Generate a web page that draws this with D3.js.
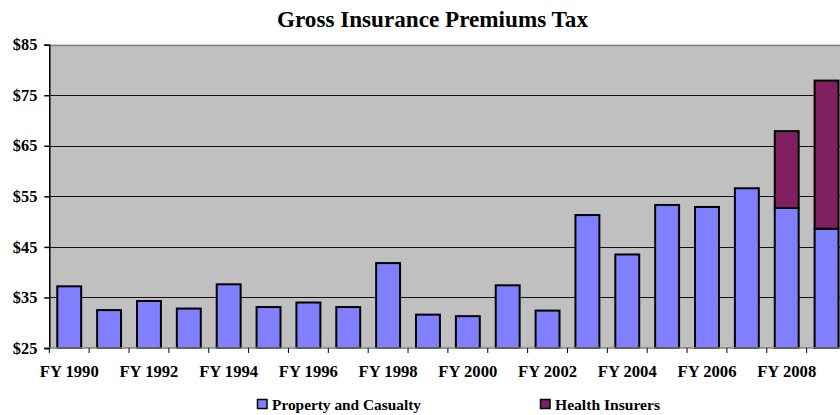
<!DOCTYPE html>
<html>
<head>
<meta charset="utf-8">
<script src="https://cdn.jsdelivr.net/npm/d3@7"></script>
<style>
  html, body { margin: 0; padding: 0; background: #fff; }
  svg { display: block; }
</style>
</head>
<body>
<svg id="chart" width="840" height="415"></svg>
<script>
// Fiscal years and premiums tax collections ($ millions)
const years = ["FY 1990","FY 1991","FY 1992","FY 1993","FY 1994","FY 1995","FY 1996","FY 1997","FY 1998","FY 1999",
               "FY 2000","FY 2001","FY 2002","FY 2003","FY 2004","FY 2005","FY 2006","FY 2007","FY 2008","FY 2009"];
const propertyCasualty = [37.2, 32.5, 34.3, 32.8, 37.6, 33.1, 34.0, 33.1, 41.8, 31.6,
                          31.3, 37.4, 32.4, 51.3, 43.5, 53.3, 52.9, 56.6, 52.7, 48.6];
const healthInsurers   = [0, 0, 0, 0, 0, 0, 0, 0, 0, 0,
                          0, 0, 0, 0, 0, 0, 0, 0, 15.2, 29.3];
const seriesNames = ["Property and Casualty", "Health Insurers"];
const seriesColors = ["#8080FF", "#7F1F5F"];
const yTicks = [25, 35, 45, 55, 65, 75, 85];
const xLabelYears = ["FY 1990","FY 1992","FY 1994","FY 1996","FY 1998","FY 2000","FY 2002","FY 2004","FY 2006","FY 2008"];

const FONT = "'Liberation Serif', 'Times New Roman', Times, serif";

const svg = d3.select("#chart");
const plot = { left: 49.3, top: 44.7, bottom: 348, right: 846.5 };

const x = d3.scaleBand().domain(years).range([plot.left, plot.right]).paddingInner(0.4).paddingOuter(0.2);
const y = d3.scaleLinear().domain([25, 85]).range([plot.bottom, plot.top]);

function styleText(sel, size, len) {
  sel.attr("font-family", FONT).attr("font-weight", "bold")
    .attr("font-size", size).attr("fill", "#000");
  if (len) sel.attr("textLength", len).attr("lengthAdjust", "spacingAndGlyphs");
  return sel;
}

// Title
styleText(svg.append("text").attr("x", 432.5).attr("y", 26.5).attr("text-anchor", "middle"), 23, 311)
  .text("Gross Insurance Premiums Tax");

// Plot background
svg.append("rect").attr("x", plot.left).attr("y", plot.top)
  .attr("width", plot.right - plot.left).attr("height", plot.bottom - plot.top)
  .attr("fill", "#C0C0C0");

// Gridlines
svg.append("g").selectAll("line").data(yTicks.filter(t => t > 25 && t < 85)).join("line")
  .attr("x1", plot.left).attr("x2", plot.right)
  .attr("y1", d => Math.round(y(d)) + 0.5).attr("y2", d => Math.round(y(d)) + 0.5)
  .attr("stroke", "#111").attr("stroke-width", 1);
svg.append("line").attr("x1", plot.left).attr("x2", plot.right)
  .attr("y1", Math.round(y(85)) + 0.5).attr("y2", Math.round(y(85)) + 0.5)
  .attr("stroke", "#808080").attr("stroke-width", 1.5);

// Stacked bars (baseline at the $25 axis floor)
const rows = years.map((yr, i) => ({ year: yr, pc: propertyCasualty[i], hi: healthInsurers[i] }));
const stack = d3.stack().keys(["pc", "hi"])(rows);
svg.append("g").selectAll("g").data(stack).join("g")
  .attr("fill", (d, i) => seriesColors[i])
  .selectAll("rect").data(d => d.filter(s => s[1] - s[0] > 0)).join("rect")
  .attr("x", d => x(d.data.year))
  .attr("width", x.bandwidth())
  .attr("y", d => y(d[1]))
  .attr("height", d => y(Math.max(d[0], 25)) - y(d[1]))
  .attr("stroke", "#000").attr("stroke-width", 2);

// Y axis
const yAxis = svg.append("g").attr("transform", `translate(${plot.left},0)`)
  .call(d3.axisLeft(y).tickValues(yTicks).tickSize(5).tickPadding(6).tickFormat(d => "$" + d));
yAxis.attr("font-family", null).attr("font-size", null);
yAxis.select(".domain").attr("stroke", "#000").attr("stroke-width", 1.5);
yAxis.selectAll(".tick line").attr("stroke", "#000").attr("stroke-width", 1.5);
styleText(yAxis.selectAll(".tick text"), 16, 24.5).attr("x", -12);

// X axis: ticks at category boundaries, labels every other year
const xAxisG = svg.append("g");
xAxisG.append("line").attr("x1", plot.left).attr("x2", plot.right)
  .attr("y1", plot.bottom).attr("y2", plot.bottom).attr("stroke", "#808080").attr("stroke-width", 1.5);
xAxisG.selectAll("line.tick").data(d3.range(years.length + 1)).join("line")
  .attr("class", "tick")
  .attr("x1", i => plot.left + i * (plot.right - plot.left) / years.length)
  .attr("x2", i => plot.left + i * (plot.right - plot.left) / years.length)
  .attr("y1", plot.bottom).attr("y2", plot.bottom + 5)
  .attr("stroke", "#000").attr("stroke-width", 1);
styleText(xAxisG.selectAll("text").data(xLabelYears).join("text")
  .attr("x", d => x(d) + x.bandwidth() / 2).attr("y", 377)
  .attr("text-anchor", "middle"), 16.5, 59).text(d => d);

// Legend
const legendX = [257.5, 540.5];
const legendLen = [149, 105];
const legend = svg.append("g").selectAll("g").data(seriesNames).join("g")
  .attr("transform", (d, i) => `translate(${legendX[i]},399.5)`);
legend.append("rect").attr("width", 9.5).attr("height", 9)
  .attr("fill", (d, i) => seriesColors[i]).attr("stroke", "#000").attr("stroke-width", 1.5);
legend.append("text").attr("x", 14.5).attr("y", 10).text(d => d)
  .each(function(d, i) { styleText(d3.select(this), 15.3, legendLen[i]); });
</script>
</body>
</html>
